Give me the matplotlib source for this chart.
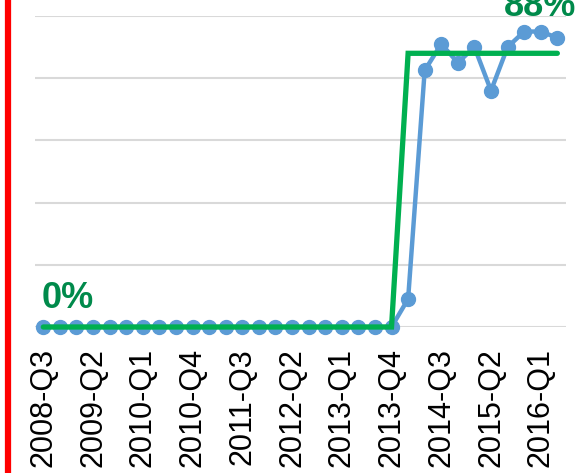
import matplotlib
matplotlib.use("Agg")
import matplotlib.pyplot as plt
from matplotlib.lines import Line2D

plt.rcParams['font.family'] = ['Liberation Sans', 'DejaVu Sans']

# Quarterly periods from 2008-Q3 to 2016-Q2
quarters = []
for year in range(2008, 2017):
    for q in range(1, 5):
        label = f"{year}-Q{q}"
        if (year, q) >= (2008, 3) and (year, q) <= (2016, 2):
            quarters.append(label)

# Measured share per quarter (%)
actual = [0, 0, 0, 0, 0, 0, 0, 0, 0, 0,
          0, 0, 0, 0, 0, 0, 0, 0, 0, 0,
          0, 0, 9, 82.5, 91, 85, 90, 76, 90, 95, 95, 93]
# Target level per quarter (%)
target = [0] * 22 + [88] * 10

tick_labels = quarters[::3]
tick_pos = list(range(0, len(quarters), 3))

fig = plt.figure(figsize=(5.78, 4.73), dpi=100)
ax = fig.add_axes([0.0606, 0.3087, 0.918, 0.6575])

x = list(range(len(quarters)))
ax.plot(x, actual, color='#5B9BD5', lw=3.2, marker='o', ms=10,
        solid_capstyle='round', zorder=3, clip_on=False)
ax.plot(x, target, color='#00B050', lw=3.8, solid_capstyle='round',
        solid_joinstyle='miter', zorder=4, clip_on=False)

ax.set_xlim(-0.5, len(quarters) - 0.5)
ax.set_ylim(0, 100)
ax.set_yticks([0, 20, 40, 60, 80, 100])
ax.yaxis.grid(True, color='#D9D9D9', lw=1.5)
ax.set_axisbelow(True)
ax.tick_params(axis='y', left=False, labelleft=False)
ax.set_xticks(tick_pos)
ax.set_xticklabels(tick_labels, rotation=90, fontsize=22)
ax.tick_params(axis='x', length=0, pad=15)
for s in ax.spines.values():
    s.set_visible(False)

label_color = '#008A4B'
ax.text(-0.1, target[0] + 3.4, f"{target[0]}%", color=label_color, fontsize=26,
        fontweight='bold', ha='left', va='bottom')
ax.text(len(quarters) - 1 + 1.15, target[-1] + 9.5, f"{target[-1]}%",
        color=label_color, fontsize=26, fontweight='bold', ha='right',
        va='bottom', clip_on=False)

# Red border line at the left edge
fig.add_artist(Line2D([0.0138, 0.0138], [0, 1], color='#FF0000', lw=4.5,
                      transform=fig.transFigure))

fig.savefig("out.png", dpi=100)
